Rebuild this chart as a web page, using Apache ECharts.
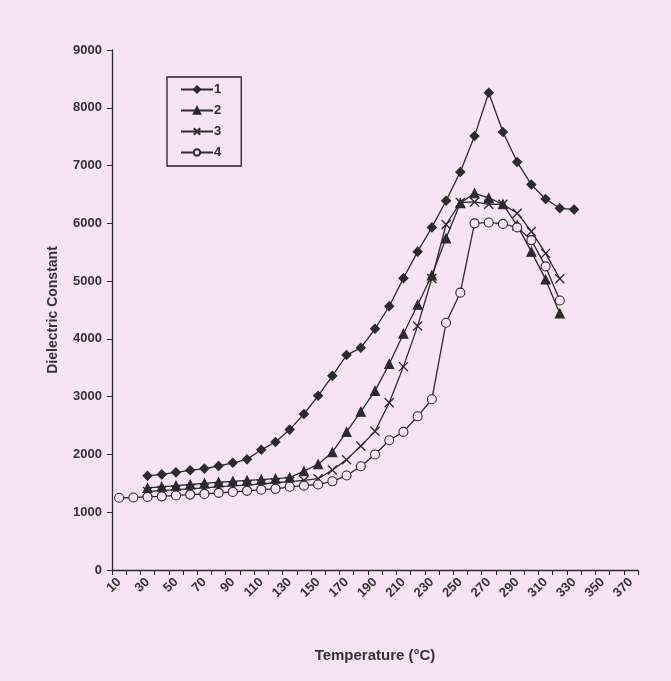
<!DOCTYPE html>
<html><head><meta charset="utf-8">
<script src="https://cdn.jsdelivr.net/npm/echarts@6/dist/echarts.min.js"></script>
<style>html,body{margin:0;padding:0;background:#f6e3f3;}#c{width:671px;height:681px;}</style>
</head><body><div id="c"></div>
<script>
const categories = ['10','20','30','40','50','60','70','80','90','100','110','120','130','140','150','160','170','180','190','200','210','220','230','240','250','260','270','280','290','300','310','320','330','340','350','360','370'];
const seriesNames = ['1','2','3','4'];
// values indexed by categories; null = no measurement
const s1 = [null,null,1630,1655,1690,1725,1755,1800,1855,1915,2080,2215,2430,2700,3015,3360,3720,3845,4175,4565,5050,5510,5930,6390,6890,7510,8260,7580,7060,6670,6420,6260,6240];
const s2 = [null,null,1420,1440,1460,1480,1500,1520,1535,1550,1565,1580,1600,1710,1830,2040,2390,2740,3100,3565,4090,4590,5100,5740,6350,6520,6440,6330,5965,5510,5030,4440];
const s3 = [null,null,1360,1375,1390,1405,1420,1440,1455,1470,1490,1510,1530,1550,1580,1730,1910,2145,2400,2895,3520,4225,5045,5980,6360,6370,6330,6330,6175,5860,5480,5040];
const s4 = [1250,1255,1265,1275,1290,1305,1315,1335,1350,1370,1390,1405,1440,1460,1480,1535,1635,1795,2000,2245,2390,2660,2955,4280,4800,6000,6015,5990,5930,5710,5255,4665];
const yTicks = {min:0, max:9000, interval:1000};

const ink = '#2b2b2b';
const bg = '#f6e3f3';
const crossPath = 'path://M0,0L10,10M10,0L0,10';
const chart = echarts.init(document.getElementById('c'), null, {renderer:'canvas'});
function mk(name, data, symbol, size, fill){
  return {
    name, type:'line', data, symbol, symbolSize:size, connectNulls:false,
    lineStyle:{color:ink, width:1.3},
    itemStyle:{color:fill, borderColor:ink, borderWidth: symbol===crossPath?1.4:1.1},
    emphasis:{disabled:true}, animation:false
  };
}
chart.setOption({
  backgroundColor: bg,
  animation:false,
  textStyle:{fontFamily:'Liberation Sans, Arial, sans-serif'},
  grid:{left:112, top:50, bottom:111, right:33, containLabel:false},
  legend:{
    orient:'vertical', left:167, top:77,
    itemWidth:32, itemHeight:8, itemGap:8,
    padding:[6,20,7,13],
    borderColor:'#222', borderWidth:1.3,
    textStyle:{color:ink, fontWeight:'bold', fontSize:13, padding:[0,0,0,-4]},
    data: seriesNames
  },
  xAxis:{
    type:'category', data:categories, boundaryGap:true,
    axisLine:{lineStyle:{color:ink, width:1.3}},
    axisTick:{show:true, interval:0, length:5, lineStyle:{color:ink}},
    axisLabel:{interval:1, rotate:45, color:'#333', fontWeight:'bold', fontSize:13, margin:10},
    name:'Temperature (°C)', nameLocation:'middle', nameGap:78,
    nameTextStyle:{color:'#333', fontWeight:'bold', fontSize:15}
  },
  yAxis:{
    type:'value', min:yTicks.min, max:yTicks.max, interval:yTicks.interval,
    splitLine:{show:false},
    axisLine:{show:true, lineStyle:{color:ink, width:1.3}},
    axisTick:{show:true, length:5, lineStyle:{color:ink}},
    axisLabel:{color:'#333', fontWeight:'bold', fontSize:13, margin:10, formatter: v => String(v)},
    name:'Dielectric Constant', nameLocation:'middle', nameGap:52, nameRotate:90,
    nameTextStyle:{color:'#333', fontWeight:'bold', fontSize:14}
  },
  series:[
    mk('1', s1, 'diamond', 9, ink),
    mk('2', s2, 'triangle', 9, ink),
    mk('3', s3, crossPath, 9, ink),
    mk('4', s4, 'circle', 9, bg)
  ]
});
</script></body></html>
